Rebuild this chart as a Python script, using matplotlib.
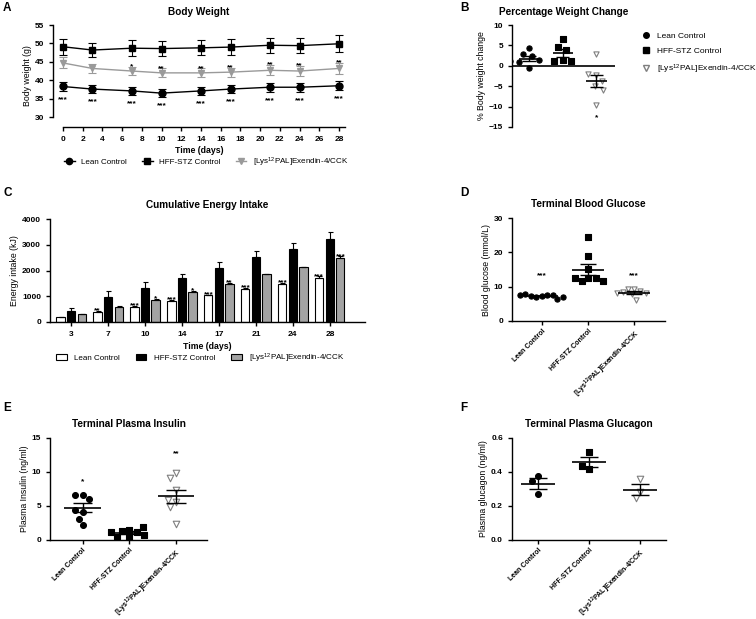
import numpy as np
import matplotlib
matplotlib.use("Agg")
import matplotlib.pyplot as plt
from matplotlib.lines import Line2D

plt.rcParams.update({
    "font.family": ["Liberation Sans", "DejaVu Sans"],
    "mathtext.default": "regular",
    "font.size": 6.3,
    "axes.linewidth": 1.0,
    "xtick.major.width": 1.0, "ytick.major.width": 1.0,
    "xtick.major.size": 3, "ytick.major.size": 3,
    "xtick.labelsize": 6, "ytick.labelsize": 6,
})

GROUPS = ["Lean Control", "HFF-STZ Control", "[Lys$^{12}$PAL]Exendin-4/CCK"]

# A: body weight (mean, SEM)
days = [0, 3, 7, 10, 14, 17, 21, 24, 28]
bw_lean = [38.3, 37.6, 37.1, 36.5, 37.1, 37.6, 38.1, 38.1, 38.5]
bw_lean_err = [1.1, 1.0, 1.0, 1.0, 1.0, 1.0, 1.2, 1.2, 1.2]
bw_hff = [49.1, 48.2, 48.7, 48.6, 48.8, 49.0, 49.5, 49.4, 49.9]
bw_hff_err = [2.2, 1.9, 2.1, 2.0, 2.0, 2.1, 2.0, 2.0, 2.3]
bw_ex = [44.7, 43.2, 42.5, 42.0, 42.0, 42.2, 42.7, 42.5, 43.2]
bw_ex_err = [1.5, 1.3, 1.1, 1.2, 1.2, 1.2, 1.4, 1.3, 1.4]
bw_lean_sig = ["***"] * 9
bw_ex_sig = ["", "", "*", "**", "**", "**", "**", "**", "**"]

# B: % weight change per animal
pct_lean = [4.4, 2.8, 2.4, 1.4, 1.0, 1.1, -0.6]
pct_hff = [6.5, 4.7, 3.9, 1.5, 1.1, 1.1]
pct_ex = [2.8, -2.3, -2.0, -3.8, -5.0, -6.0, -9.6]
pct_sig = ["", "", "*"]
pct_sig_y = [0, 0, -12.8]

# C: cumulative energy intake
ei_days = ["3", "7", "10", "14", "17", "21", "24", "28"]
ei_lean = [170, 380, 580, 820, 1030, 1280, 1460, 1710]
ei_lean_err = [20, 30, 30, 30, 30, 40, 40, 60]
ei_hff = [420, 960, 1300, 1690, 2100, 2540, 2840, 3240]
ei_hff_err = [100, 220, 240, 160, 250, 230, 250, 250]
ei_ex = [290, 580, 840, 1160, 1480, 1860, 2120, 2490]
ei_ex_err = [30, 20, 40, 30, 30, 20, 30, 60]
ei_lean_sig = ["", "**", "***", "***", "***", "***", "***", "***"]
ei_ex_sig = ["", "", "*", "*", "**", "", "", "***"]

# D: terminal blood glucose
glu_lean = [7.3, 7.0, 7.5, 7.2, 7.6, 7.8, 6.5, 6.9, 7.4]
glu_hff = [24.6, 19.1, 15.2, 12.6, 11.5, 12.6, 12.6, 11.7]
glu_ex = [9.4, 9.4, 8.6, 8.4, 8.1, 7.7, 8.2, 6.2]
glu_sig = ["***", "", "***"]
glu_sig_y = [13.2, 0, 13.2]

# E: terminal plasma insulin
ins_lean = [6.6, 6.6, 6.05, 4.1, 4.45, 3.1, 2.15]
ins_hff = [1.5, 0.4, 1.3, 1.2, 0.4, 1.9, 0.8, 1.1]
ins_ex = [9.8, 9.1, 7.4, 5.6, 5.9, 4.8, 2.3]
ins_sig = ["*", "", "**"]
ins_sig_y = [8.6, 0, 12.6]

# F: terminal plasma glucagon
gcg_lean = [0.375, 0.348, 0.268]
gcg_hff = [0.514, 0.416, 0.436]
gcg_ex = [0.355, 0.283, 0.244]

W, H = 756, 619
fig = plt.figure(figsize=(W / 100, H / 100), dpi=100)

GREY = "#9a9a9a"
TRI = "#7f7f7f"
TITLE = dict(fontsize=7.2, fontweight="bold")
SIG = dict(fontsize=6, fontweight="bold")


def box(l, t, r, b):
    return fig.add_axes([l / W, 1 - b / H, (r - l) / W, (b - t) / H])


def clean(ax):
    ax.spines["top"].set_visible(False)
    ax.spines["right"].set_visible(False)
    for lab in ax.get_xticklabels() + ax.get_yticklabels():
        lab.set_fontweight("bold")


def swarm(ax, vals, x0, size=5.5):
    """simple 2D beeswarm in pixel space, returns data x positions"""
    tr = ax.transData
    placed, xs = [], []
    for v in vals:
        px, py = tr.transform((x0, v))
        for k in range(0, 300):
            for dx in ((0.0,) if k == 0 else (-k * 0.5, k * 0.5)):
                if all(np.hypot(px + dx - qx, py - qy) >= size for qx, qy in placed):
                    break
            else:
                continue
            break
        placed.append((px + dx, py))
        xs.append(tr.inverted().transform((px + dx, py))[0])
    return xs


def dot_group(ax, x0, vals, marker, face, edge, half_mean, half_cap, s=14, size=5.5):
    xs = swarm(ax, vals, x0, size)
    ax.scatter(xs, vals, marker=marker, s=s, facecolor=face, edgecolor=edge,
               lw=0.8, zorder=3)
    m = np.mean(vals)
    se = np.std(vals, ddof=1) / np.sqrt(len(vals))
    ax.hlines(m, x0 - half_mean, x0 + half_mean, color="k", lw=1.2, zorder=4)
    ax.vlines(x0, m - se, m + se, color="k", lw=1, zorder=4)
    ax.hlines([m - se, m + se], x0 - half_cap, x0 + half_cap, color="k", lw=1, zorder=4)


def cat_axis(ax):
    ax.set_xticks([0, 1, 2])
    ax.set_xticklabels(GROUPS, rotation=45, ha="right", rotation_mode="anchor",
                       fontsize=5.0)
    ax.tick_params(axis="x", pad=2)
    clean(ax)


def letter(x, y, s):
    fig.text(x / W, 1 - y / H, s, fontsize=8.5, fontweight="bold", va="top", ha="left")


# ---- A
axA = box(53, 25, 345, 127)
axA.set_xlim(-1.0, 28.6)
axA.set_ylim(27.3, 55)
ebkw = dict(lw=1, capsize=3, elinewidth=0.8, capthick=0.8)
axA.errorbar(days, bw_lean, yerr=bw_lean_err, color="k", marker="o", ms=5, **ebkw)
axA.errorbar(days, bw_hff, yerr=bw_hff_err, color="k", marker="s", ms=5, **ebkw)
axA.errorbar(days, bw_ex, yerr=bw_ex_err, color=GREY, marker="v", ms=4.5, **ebkw)
for d, v, e, s in zip(days, bw_ex, bw_ex_err, bw_ex_sig):
    if s:
        axA.annotate(s, (d, v + e), xytext=(0, -1), textcoords="offset points",
                     ha="center", va="baseline", **SIG)
for d, v, e, s in zip(days, bw_lean, bw_lean_err, bw_lean_sig):
    if s:
        axA.annotate(s, (d, v - e), xytext=(0, -7.5), textcoords="offset points",
                     ha="center", va="baseline", **SIG)
axA.set_xticks(range(0, 29, 2))
axA.set_yticks(range(30, 56, 5))
axA.spines["left"].set_bounds(30, 55)
axA.spines["bottom"].set_bounds(0, 28.6)
axA.set_xlabel("Time (days)", fontweight="bold", labelpad=2)
axA.set_ylabel("Body weight (g)", labelpad=2)
axA.set_title("Body Weight", pad=7, **TITLE)
clean(axA)
hA = [Line2D([], [], color="k", marker="o", ms=4.5, lw=1),
      Line2D([], [], color="k", marker="s", ms=4.5, lw=1),
      Line2D([], [], color=GREY, marker="v", ms=4.5, lw=1)]
fig.legend(hA, GROUPS, ncol=3, loc="center left",
           bbox_to_anchor=(57 / W, 1 - 162 / H), frameon=False, fontsize=5.8,
           handlelength=1.3, columnspacing=1.9, handletextpad=0.8)

# ---- B
axB = box(512, 25, 615, 127)
axB.set_xlim(-0.5, 2.55)
axB.set_ylim(-15, 10)
axB.axhline(0, color="k", lw=1.2)
dot_group(axB, 0, pct_lean, "o", "k", "k", 0.3, 0.2, size=8.5)
dot_group(axB, 1, pct_hff, "s", "k", "k", 0.3, 0.2, size=8.5)
dot_group(axB, 2, pct_ex, "v", "white", TRI, 0.3, 0.2, size=8.5)
for x, s, y in zip(range(3), pct_sig, pct_sig_y):
    if s:
        axB.text(x, y, s, ha="center", va="center", **SIG)
axB.spines["bottom"].set_visible(False)
axB.set_xticks([])
axB.set_yticks([-15, -10, -5, 0, 5, 10])
axB.set_ylabel("% Body weight change", labelpad=2)
axB.set_title("Percentage Weight Change", pad=7, **TITLE)
clean(axB)
hB = [Line2D([], [], ls="", marker="o", ms=4, color="k"),
      Line2D([], [], ls="", marker="s", ms=4, color="k"),
      Line2D([], [], ls="", marker="v", ms=4.5, mfc="white", mec=TRI)]
fig.legend(hB, GROUPS, loc="upper left", bbox_to_anchor=(634 / W, 1 - 25 / H),
           frameon=False, fontsize=6, handlelength=1.0, handletextpad=0.9,
           labelspacing=0.85)

# ---- C
axC = box(50, 219.3, 365, 321.7)
xc = np.arange(len(ei_days))
bw = 0.22
off = 0.285
kw = dict(width=bw, edgecolor="k", lw=0.8, error_kw=dict(lw=0.8, capsize=1.8, capthick=0.8))
b1 = axC.bar(xc - off, ei_lean, yerr=[np.zeros(8), ei_lean_err], color="white", **kw)
b2 = axC.bar(xc, ei_hff, yerr=[np.zeros(8), ei_hff_err], color="black", **kw)
b3 = axC.bar(xc + off, ei_ex, yerr=[np.zeros(8), ei_ex_err], color="#a3a3a3", **kw)
for i in range(len(ei_days)):
    for dx, vals, errs, sig in ((-off, ei_lean, ei_lean_err, ei_lean_sig),
                                (off, ei_ex, ei_ex_err, ei_ex_sig)):
        if sig[i]:
            axC.annotate(sig[i], (i + dx, vals[i] + errs[i]), xytext=(0, -1),
                         textcoords="offset points", ha="center", va="baseline", **SIG)
axC.set_xlim(-0.57, 7.95)
axC.set_ylim(0, 4000)
axC.set_xticks(xc)
axC.set_xticklabels(ei_days)
axC.set_yticks(range(0, 4001, 1000))
axC.set_xlabel("Time (days)", fontweight="bold", labelpad=3)
axC.set_ylabel("Energy intake (kJ)", labelpad=2)
axC.set_title("Cumulative Energy Intake", pad=8, **TITLE)
clean(axC)
fig.legend([b1, b2, b3], GROUPS, ncol=3, loc="center left",
           bbox_to_anchor=(49 / W, 1 - 358 / H), frameon=False, fontsize=5.8,
           handlelength=1.3, handleheight=0.8, columnspacing=2.0, handletextpad=0.9)

# ---- D
axD = box(512, 218.3, 665, 320.7)
axD.set_xlim(-0.65, 2.67)
axD.set_ylim(0, 30)
dot_group(axD, 0, glu_lean, "o", "k", "k", 0.34, 0.17, size=5.5)
dot_group(axD, 1, glu_hff, "s", "k", "k", 0.34, 0.17, size=7.5)
dot_group(axD, 2, glu_ex, "v", "white", TRI, 0.34, 0.17, size=6)
for x, s, y in zip(range(3), glu_sig, glu_sig_y):
    if s:
        axD.text(x, y, s, ha="center", va="center", **SIG)
axD.set_yticks([0, 10, 20, 30])
axD.set_ylabel("Blood glucose (mmol/L)", labelpad=2)
axD.set_title("Terminal Blood Glucose", pad=8, **TITLE)
cat_axis(axD)

# ---- E
axE = box(50, 437.7, 207, 540)
axE.set_xlim(-0.7, 2.67)
axE.set_ylim(0, 15)
dot_group(axE, 0, ins_lean, "o", "k", "k", 0.39, 0.21, s=18, size=7.5)
dot_group(axE, 1, ins_hff, "s", "k", "k", 0.39, 0.21, s=18, size=7.5)
dot_group(axE, 2, ins_ex, "v", "white", TRI, 0.39, 0.21, s=22, size=7.5)
for x, s, y in zip(range(3), ins_sig, ins_sig_y):
    if s:
        axE.text(x, y, s, ha="center", va="center", **SIG)
axE.set_yticks([0, 5, 10, 15])
axE.set_ylabel("Plasma Insulin (ng/ml)", labelpad=2)
axE.set_title("Terminal Plasma Insulin", pad=8, **TITLE)
cat_axis(axE)

# ---- F
axF = box(512, 437.7, 666, 540)
axF.set_xlim(-0.51, 2.51)
axF.set_ylim(0, 0.6)
dot_group(axF, 0, gcg_lean, "o", "k", "k", 0.33, 0.17, s=18, size=7.5)
dot_group(axF, 1, gcg_hff, "s", "k", "k", 0.33, 0.17, s=18, size=7.5)
dot_group(axF, 2, gcg_ex, "v", "white", TRI, 0.33, 0.17, s=22, size=7.5)
axF.set_yticks([0.0, 0.2, 0.4, 0.6])
axF.set_yticklabels(["0.0", "0.2", "0.4", "0.6"])
axF.set_ylabel("Plasma glucagon (ng/ml)", labelpad=2)
axF.set_title("Terminal Plasma Glucagon", pad=8, **TITLE)
cat_axis(axF)

letter(3, 2, "A")
letter(460, 2, "B")
letter(3, 187, "C")
letter(460, 187, "D")
letter(3, 402, "E")
letter(460, 402, "F")

fig.savefig("out.png", dpi=100)
